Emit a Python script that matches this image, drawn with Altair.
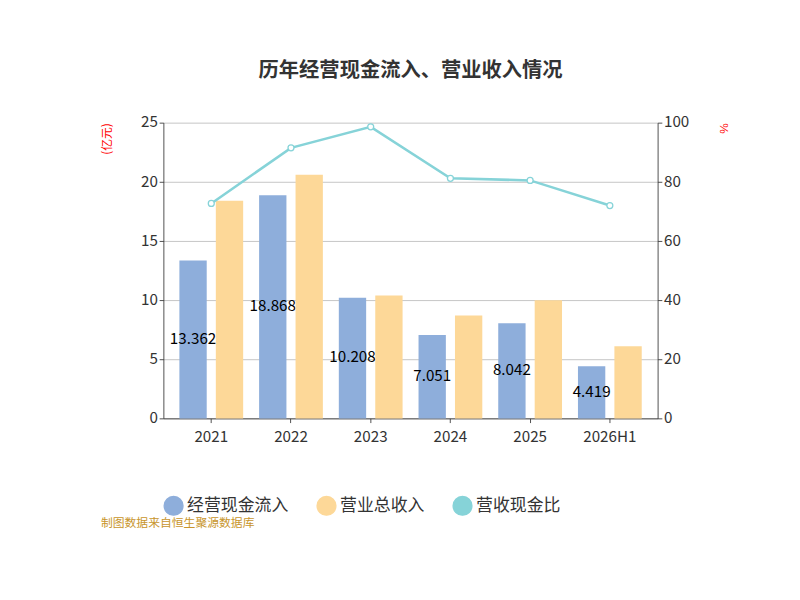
import altair as alt
import pandas as pd

years = ["2021", "2022", "2023", "2024", "2025", "2026H1"]
cash_in = [13.362, 18.868, 10.208, 7.051, 8.042, 4.419]
revenue = [18.4, 20.6, 10.4, 8.7, 10.0, 6.1]
ratio = [72.7, 91.5, 98.6, 81.2, 80.5, 72.0]

s_cash, s_rev, s_ratio = "经营现金流入", "营业总收入", "营收现金比"
font = "Noto Sans CJK SC"

df = pd.DataFrame({"year": years * 2,
                   "series": [s_cash] * 6 + [s_rev] * 6,
                   "value": cash_in + revenue})
df["label"] = df["value"].map(lambda v: f"{v:.3f}")
df["half"] = df["value"] / 2
rdf = pd.DataFrame({"year": years, "ratio": ratio, "series": s_ratio})

color = alt.Color("series:N", title=None,
                  scale=alt.Scale(domain=[s_cash, s_rev, s_ratio],
                                  range=["#8eaedb", "#fdd898", "#86d3d8"]),
                  legend=alt.Legend(orient="bottom", direction="horizontal",
                                    labelFontSize=20, labelFont=font, labelColor="#333",
                                    symbolSize=500, symbolType="circle", columnPadding=30,
                                    offset=60))
x = alt.X("year:N", sort=years, title=None,
          axis=alt.Axis(labelAngle=0, labelFontSize=18, labelColor="#333",
                        domainColor="#333", tickColor="#333", labelPadding=8))
xo = alt.XOffset("series:N", scale=alt.Scale(domain=[s_cash, s_rev], paddingInner=0.25))
yl = alt.Y("value:Q", scale=alt.Scale(domain=[0, 25]),
           axis=alt.Axis(title="(亿元)", titleColor="red", titleFont=font, titleFontWeight="normal",
                         titleFontSize=14, titleAngle=-90, titleX=-60, titleY=0, titleAlign="right",
                         values=[0, 5, 10, 15, 20, 25], labelFontSize=18,
                         labelColor="#333", domainColor="#333", tickColor="#333",
                         gridColor="#bbb"))

base = alt.Chart(df)
blue = base.transform_filter(alt.datum.series == s_cash).mark_bar().encode(
    x=x, xOffset=xo, y=yl, color=color)
txt = base.transform_filter(alt.datum.series == s_cash).mark_text(
    fontSize=18, color="black", font=font).encode(
    x=x, xOffset=xo, y=alt.Y("half:Q", scale=alt.Scale(domain=[0, 25])), text="label:N")
orange = base.transform_filter(alt.datum.series == s_rev).mark_bar().encode(
    x=x, xOffset=xo, y=yl, color=color)
bars = alt.layer(blue, txt, orange)

yr = alt.Y("ratio:Q", scale=alt.Scale(domain=[0, 100]),
           axis=alt.Axis(orient="right", title="%", titleColor="red", titleFontSize=14,
                         titleAngle=90, titleFontWeight="normal", titleX=70, titleY=0,
                         titleAlign="left", values=[0, 20, 40, 60, 80, 100],
                         labelFontSize=18, labelColor="#333", domainColor="#333",
                         tickColor="#333", grid=False))
line = alt.Chart(rdf).mark_line(strokeWidth=3, point=alt.OverlayMarkDef(
    filled=True, fill="white", stroke="#86d3d8", strokeWidth=1.5, size=50)).encode(
    x=x, y=yr, color=color)

inner = alt.layer(bars, line).resolve_scale(y="independent").properties(
    width=585, height=350,
    title=alt.TitleParams("历年经营现金流入、营业收入情况", fontSize=24, font=font,
                          color="#333", offset=40),
)

chart = alt.concat(inner).properties(
    padding={"left": 110, "top": 10, "right": 75, "bottom": 10},
    title=alt.TitleParams("制图数据来自恒生聚源数据库", orient="bottom", fontSize=14,
                          color="#c8952b", font=font, fontWeight="normal", offset=0),
).configure_view(stroke=None).configure_axis(labelFont=font)
chart.save("out.html", embed_options={"renderer": "svg", "actions": False})
